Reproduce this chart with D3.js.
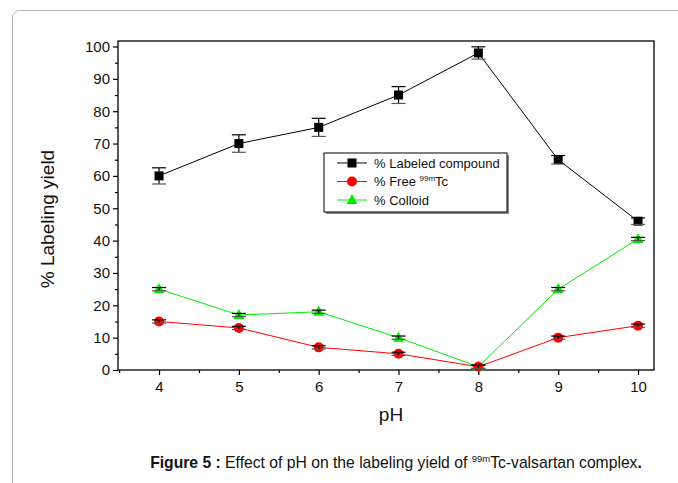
<!DOCTYPE html>
<html><head><meta charset="utf-8">
<script src="https://cdn.jsdelivr.net/npm/d3@7"></script>
<style>body{margin:0;background:#fff;} svg{display:block;font-family:"Liberation Sans",Arial,sans-serif;}</style>
</head><body>
<svg id="c" width="678" height="483"></svg>
<script>
const pH = [4, 5, 6, 7, 8, 9, 10];
const labeled = [60, 70, 75, 85, 98, 65, 46];
const labeledErr = [2.5, 2.7, 2.8, 2.6, 1.9, 1.3, 1.0];
const freeTc = [15, 13, 7, 5, 1, 10, 13.7];
const freeErr = [0.5, 0.5, 0.5, 0.5, 0.5, 0.5, 0.5];
const colloid = [25, 17, 18, 10, 1, 25, 40.5];
const colloidErr = [0.5, 0.5, 0.5, 0.5, 0.5, 0.5, 0.5];
const xTicks = [4, 5, 6, 7, 8, 9, 10];
const yTicks = [0, 10, 20, 30, 40, 50, 60, 70, 80, 90, 100];

const svg = d3.select("#c");
// outer frame
svg.append("rect").attr("x", 12.5).attr("y", 10.5).attr("width", 700).attr("height", 500)
  .attr("rx", 7).attr("fill", "none").attr("stroke", "#b5b5b5").attr("stroke-width", 1);

const L = 118, R = 654, T = 41, B = 370;
const x = d3.scaleLinear().domain([3.486, 10.2]).range([L, R]);
const y = d3.scaleLinear().domain([0, 101.7]).range([B, T]);

// frame of plot
svg.append("rect").attr("x", L).attr("y", T).attr("width", R - L).attr("height", B - T)
  .attr("fill", "none").attr("stroke", "#000").attr("stroke-width", 1.3);

const xAxis = d3.axisBottom(x).tickValues(xTicks).tickSize(5).tickPadding(6).tickFormat(d3.format("d"));
const gx = svg.append("g").attr("transform", `translate(0,${B})`).call(xAxis);
const xMinor = d3.axisBottom(x).tickValues(d3.range(3.5, 10.2, 0.5).filter(v => !Number.isInteger(v))).tickSize(3).tickFormat("");
const gxm = svg.append("g").attr("transform", `translate(0,${B})`).call(xMinor);
const yAxis = d3.axisLeft(y).tickValues(yTicks).tickSize(5).tickPadding(3).tickFormat(d3.format("d"));
const gy = svg.append("g").attr("transform", `translate(${L},0)`).call(yAxis);
const yMinor = d3.axisLeft(y).tickValues(d3.range(5, 101, 10)).tickSize(3).tickFormat("");
const gym = svg.append("g").attr("transform", `translate(${L},0)`).call(yMinor);
[gx, gxm, gy, gym].forEach(g => {
  g.select(".domain").remove();
  g.selectAll("line").attr("stroke", "#000").attr("stroke-width", 1.2);
  g.selectAll("text").attr("font-size", 15).attr("fill", "#111").attr("font-family", "Liberation Sans, Arial, sans-serif");
});

// axis titles
svg.append("text").attr("x", 391).attr("y", 421).attr("text-anchor", "middle")
  .attr("font-size", 19).attr("fill", "#111").text("pH");
svg.append("text").attr("transform", "translate(54,219) rotate(-90)").attr("text-anchor", "middle")
  .attr("font-size", 19).attr("fill", "#111").text("% Labeling yield");

const series = [
  {vals: labeled, err: labeledErr, color: "#000", marker: "square"},
  {vals: freeTc, err: freeErr, color: "#ff0000", marker: "circle"},
  {vals: colloid, err: colloidErr, color: "#00ee00", marker: "triangle"}
];
const line = d3.line().x((d, i) => x(pH[i])).y(d => y(d));

function drawMarker(g, type, cx, cy, color) {
  if (type === "square") {
    g.append("rect").attr("x", cx - 4.5).attr("y", cy - 4.5).attr("width", 9).attr("height", 9).attr("fill", "#000");
  } else if (type === "circle") {
    g.append("circle").attr("cx", cx).attr("cy", cy).attr("r", 5).attr("fill", color);
  } else {
    g.append("path").attr("d", `M${cx},${cy - 6}L${cx + 5.5},${cy + 4}L${cx - 5.5},${cy + 4}Z`).attr("fill", color);
  }
}

// draw order: colloid, free, labeled
[series[2], series[1], series[0]].forEach(s => {
  svg.append("path").datum(s.vals).attr("d", line).attr("fill", "none")
    .attr("stroke", s.color).attr("stroke-width", 1);
});
[series[2], series[1], series[0]].forEach(s => {
  const g = svg.append("g");
  s.vals.forEach((v, i) => {
    const cx = x(pH[i]);
    drawMarker(g, s.marker, cx, y(v), s.color);
    const yt = y(v + s.err[i]), yb = y(v - s.err[i]);
    g.append("line").attr("x1", cx).attr("x2", cx).attr("y1", yt).attr("y2", yb).attr("stroke", "#000").attr("stroke-width", 1.2);
    g.append("line").attr("x1", cx - 7).attr("x2", cx + 7).attr("y1", yt).attr("y2", yt).attr("stroke", "#000").attr("stroke-width", 1.2);
    g.append("line").attr("x1", cx - 7).attr("x2", cx + 7).attr("y1", yb).attr("y2", yb).attr("stroke", "#555").attr("stroke-width", 1.2);
  });
});

// legend
const lg = svg.append("g");
lg.append("rect").attr("x", 326).attr("y", 155).attr("width", 183).attr("height", 59).attr("fill", "#888");
lg.append("rect").attr("x", 324).attr("y", 153).attr("width", 183).attr("height", 59).attr("fill", "#fff").attr("stroke", "#000").attr("stroke-width", 1);
const legendNames = ["% Labeled compound", "% Free ", "% Colloid"];
series.forEach((s, i) => {
  const ly = 163 + i * 18.5;
  lg.append("line").attr("x1", 337).attr("x2", 367).attr("y1", ly).attr("y2", ly).attr("stroke", s.color).attr("stroke-width", 1);
  drawMarker(lg, s.marker, 352, ly, s.color);
  const t = lg.append("text").attr("x", 374).attr("y", ly + 4.5).attr("font-size", 13).attr("fill", "#111").text(legendNames[i]);
  if (i === 1) {
    t.append("tspan").attr("font-size", 8).attr("dy", -5).text("99m");
    t.append("tspan").attr("font-size", 13).attr("dy", 5).text("Tc");
  }
});

// caption
const cap = svg.append("text").attr("x", 396).attr("y", 468).attr("text-anchor", "middle").attr("font-size", 15.7).attr("fill", "#111");
cap.append("tspan").attr("font-weight", "bold").text("Figure 5 :");
cap.append("tspan").text(" Effect of pH on the labeling yield of ");
cap.append("tspan").attr("font-size", 9.5).attr("dy", -6).text("99m");
cap.append("tspan").attr("dy", 6).text("Tc-valsartan complex");
cap.append("tspan").attr("font-weight", "bold").text(".");
</script>
</body></html>
